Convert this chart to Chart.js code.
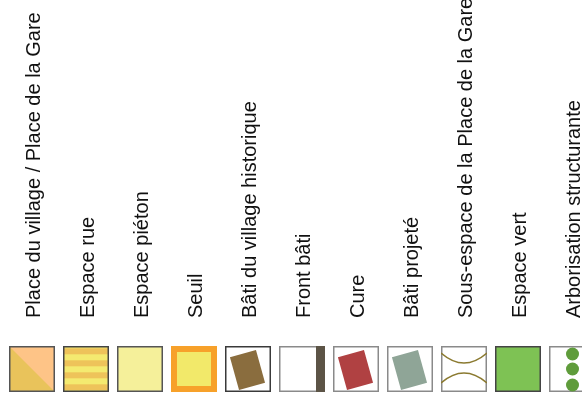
<!DOCTYPE html>
<html>
<head>
<meta charset="utf-8">
<script src="https://cdn.jsdelivr.net/npm/chart.js@4"></script>
<style>
html,body{margin:0;padding:0;background:#fff;overflow:hidden;}
#wrap{position:relative;width:582px;height:401px;}
</style>
</head>
<body>
<div id="wrap"><canvas id="c"></canvas></div>
<script>
// Legend entries (categories), left to right
const categories = [
  "Place du village / Place de la Gare",
  "Espace rue",
  "Espace piéton",
  "Seuil",
  "Bâti du village historique",
  "Front bâti",
  "Cure",
  "Bâti projeté",
  "Sous-espace de la Place de la Gare",
  "Espace vert",
  "Arborisation structurante"
];
// Symbol kind for each entry
const symbols = ["split","stripes","plain","seuil","bati","front","cure","projete","curves","vert","arbres"];
// Row level of every swatch (all on one row)
const rowLevel = [0,0,0,0,0,0,0,0,0,0,0];

const S = 46;
function box(ctx, fill, stroke){
  if(fill){ctx.fillStyle=fill;ctx.fillRect(0,0,S,S);}
  ctx.strokeStyle=stroke;ctx.lineWidth=1.5;ctx.strokeRect(0.75,0.75,S-1.5,S-1.5);
}
function rotRect(ctx,color){
  ctx.save();
  ctx.translate(22.5,24);
  ctx.rotate(-15.5*Math.PI/180);
  ctx.fillStyle=color;
  ctx.fillRect(-13.5,-17,27,34);
  ctx.restore();
}
function makeIcon(kind){
  const c=document.createElement('canvas');c.width=S;c.height=S;
  const ctx=c.getContext('2d');
  switch(kind){
    case 'split':
      ctx.fillStyle='#E9C35B';ctx.fillRect(0,0,S,S);
      ctx.fillStyle='#FEC487';
      ctx.beginPath();ctx.moveTo(0,0);ctx.lineTo(S,0);ctx.lineTo(S,S);ctx.closePath();ctx.fill();
      box(ctx,null,'#555');break;
    case 'stripes':
      ctx.fillStyle='#F4EA70';ctx.fillRect(0,0,S,S);
      ctx.fillStyle='#EEC35A';
      for(let y=2.3;y<S;y+=12){ctx.fillRect(0,y,S,6);}
      box(ctx,null,'#444');break;
    case 'plain':
      box(ctx,'#F5F09A','#555');break;
    case 'seuil':
      ctx.fillStyle='#F7A12A';ctx.fillRect(0,0,S,S);
      ctx.fillStyle='#F2E96A';ctx.fillRect(6,6,S-12,S-12);
      break;
    case 'bati':
      box(ctx,'#FFFFFF','#3a3a3a');rotRect(ctx,'#8A6D3E');break;
    case 'front':
      box(ctx,'#FFFFFF','#8a8a8a');
      ctx.fillStyle='#5C5446';ctx.fillRect(37,0,9,S);break;
    case 'cure':
      box(ctx,'#FFFFFF','#8a8a8a');rotRect(ctx,'#B04142');break;
    case 'projete':
      box(ctx,'#FFFFFF','#8a8a8a');rotRect(ctx,'#8FA597');break;
    case 'curves':
      box(ctx,'#FFFFFF','#8a8a8a');
      ctx.strokeStyle='#8B7A30';ctx.lineWidth=1.6;
      ctx.beginPath();ctx.moveTo(0,7);ctx.quadraticCurveTo(23,27,S,7);ctx.stroke();
      ctx.beginPath();ctx.moveTo(0,37);ctx.quadraticCurveTo(23,17,S,37);ctx.stroke();
      break;
    case 'vert':
      box(ctx,'#7EC254','#444');break;
    case 'arbres':
      box(ctx,'#FFFFFF','#8a8a8a');
      ctx.fillStyle='#5F9C3B';
      [8,23,39].forEach(y=>{ctx.beginPath();ctx.arc(23.5,y,6.5,0,Math.PI*2);ctx.fill();});
      break;
  }
  return c;
}
const icons = symbols.map(makeIcon);
const points = categories.map((_,i)=>({x:i,y:rowLevel[i]}));

new Chart(document.getElementById('c'),{
  type:'scatter',
  data:{datasets:[{
    data:points,
    pointStyle:icons,
    pointRadius:23,
    clip:false
  }]},
  options:{
    responsive:true,maintainAspectRatio:false,animation:false,events:[],
    devicePixelRatio:1,
    layout:{padding:0,autoPadding:false},
    plugins:{legend:{display:false},tooltip:{enabled:false}},
    scales:{
      x:{
        type:'linear',position:'top',
        min:-32/54,max:(582-32)/54,
        grid:{display:false,drawTicks:false},border:{display:false},
        afterBuildTicks:s=>{s.ticks=categories.map((_,i)=>({value:i}));},
        afterFit:s=>{s.height=320;s.paddingLeft=0;s.paddingRight=0;},
        ticks:{
          autoSkip:false,minRotation:90,maxRotation:90,padding:2,labelOffset:26,
          color:'#111',
          font:{family:'"Liberation Sans", Arial, sans-serif',size:20},
          callback:v=>categories[v]
        }
      },
      y:{type:'linear',display:false,min:-1,max:1.53}
    }
  }
});
</script>
</body>
</html>
